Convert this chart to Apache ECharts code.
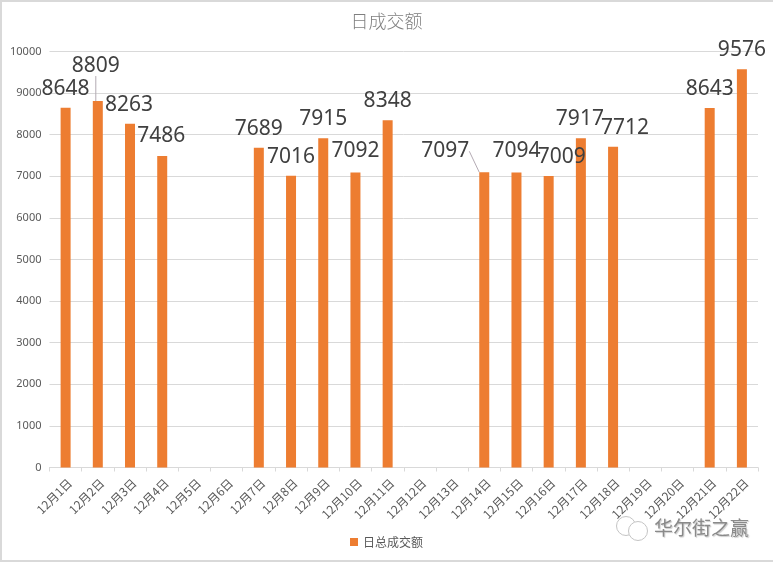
<!DOCTYPE html>
<html>
<head>
<meta charset="utf-8">
<title>日成交额</title>
<script src="https://cdn.jsdelivr.net/npm/echarts@6/dist/echarts.min.js"></script>
<style>
html, body { margin: 0; padding: 0; background: #fff; }
#main { width: 773px; height: 562px; }
</style>
</head>
<body>
<div id="main"></div>
<script>
var categories = ['12月1日', '12月2日', '12月3日', '12月4日', '12月5日', '12月6日', '12月7日', '12月8日',
    '12月9日', '12月10日', '12月11日', '12月12日', '12月13日', '12月14日', '12月15日', '12月16日',
    '12月17日', '12月18日', '12月19日', '12月20日', '12月21日', '12月22日'];
var dailyTotal = [8648, 8809, 8263, 7486, null, null, 7689, 7016, 7915, 7092, 8348, null, null, 7097,
    7094, 7009, 7917, 7712, null, null, 8643, 9576];
var yTicks = [0, 10000, 1000];

// 数据标签的手动偏移(原图标签被拖动过)
var labelNudge = {
    1: [-2, -16.5], 2: [-1, 0], 3: [-1, -1], 9: [0, -2],
    13: [-39, -2], 14: [0, -2], 15: [13, 0], 16: [-1, 0], 17: [12, 0]
};
var lineIndexes = [1, 13];

var myChart = echarts.init(document.getElementById('main'), null, {renderer: 'canvas'});

var seriesData = dailyTotal.map(function(v, i) {
    return {
        value: v,
        labelLine: {
            show: lineIndexes.indexOf(i) >= 0,
            lineStyle: {color: '#b3aab3', width: 1}
        }
    };
});

var option = {
    animation: false,
    textStyle: {fontFamily: '"Noto Sans", "Noto Sans CJK SC", sans-serif'},
    title: {
        text: '日成交额',
        left: 'center',
        top: 7,
        textStyle: {
            color: '#7f7f7f',
            fontSize: 18,
            fontWeight: 300,
            fontFamily: '"Noto Sans CJK SC", sans-serif'
        }
    },
    legend: {
        bottom: 9,
        left: 'center',
        itemWidth: 8,
        itemHeight: 8,
        itemGap: 4,
        icon: 'rect',
        textStyle: {
            color: '#595959',
            fontSize: 12,
            fontFamily: '"Noto Sans CJK SC", sans-serif'
        },
        data: ['日总成交额']
    },
    grid: {left: 49.5, right: 15, top: 51.5, bottom: 94.5},
    xAxis: {
        type: 'category',
        data: categories,
        axisLine: {lineStyle: {color: '#d9d9d9', width: 1}},
        axisTick: {show: true, alignWithLabel: false, length: 4, lineStyle: {color: '#d9d9d9'}},
        axisLabel: {
            interval: 0,
            rotate: 45,
            color: '#595959',
            fontSize: 12,
            margin: 9,
            verticalAlign: 'top',
            fontFamily: '"Noto Sans CJK SC", sans-serif'
        }
    },
    yAxis: {
        type: 'value',
        min: yTicks[0],
        max: yTicks[1],
        interval: yTicks[2],
        axisLine: {show: false},
        axisTick: {show: false},
        axisLabel: {
            color: '#595959',
            fontSize: 11,
            margin: 8,
            formatter: function(v) {
                return String(v);
            }
        },
        splitLine: {lineStyle: {color: '#d9d9d9', width: 1}}
    },
    series: [{
        name: '日总成交额',
        type: 'bar',
        barWidth: 10,
        data: seriesData,
        itemStyle: {color: '#ed7d31'},
        label: {
            show: true,
            position: 'top',
            distance: 8.5,
            color: '#404040',
            fontSize: 21
        },
        labelLayout: function(params) {
            var nudge = labelNudge[params.dataIndex] || [0, 0];
            return {dx: nudge[0], dy: nudge[1]};
        }
    }],
    graphic: [
        {
            type: 'rect',
            silent: true,
            z: -1,
            shape: {x: 1, y: 1, width: 790, height: 560},
            style: {fill: 'none', stroke: '#d9d9d9', lineWidth: 2}
        },
        // 水印
        {
            type: 'circle',
            silent: true,
            shape: {cx: 626, cy: 526, r: 9.5},
            style: {fill: '#fff', stroke: '#c4c4c4', lineWidth: 1}
        },
        {
            type: 'circle',
            silent: true,
            shape: {cx: 638, cy: 531, r: 9.5},
            style: {fill: '#fff', stroke: '#c4c4c4', lineWidth: 1}
        },
        {
            type: 'text',
            silent: true,
            x: 654,
            y: 518,
            style: {
                text: '华尔街之赢',
                fill: '#8a8a8a',
                fontSize: 19,
                fontFamily: '"Noto Sans CJK SC", sans-serif',
                textShadowColor: '#cccccc',
                textShadowBlur: 1,
                textShadowOffsetX: 1,
                textShadowOffsetY: 1
            }
        }
    ]
};
myChart.setOption(option);
</script>
</body>
</html>
